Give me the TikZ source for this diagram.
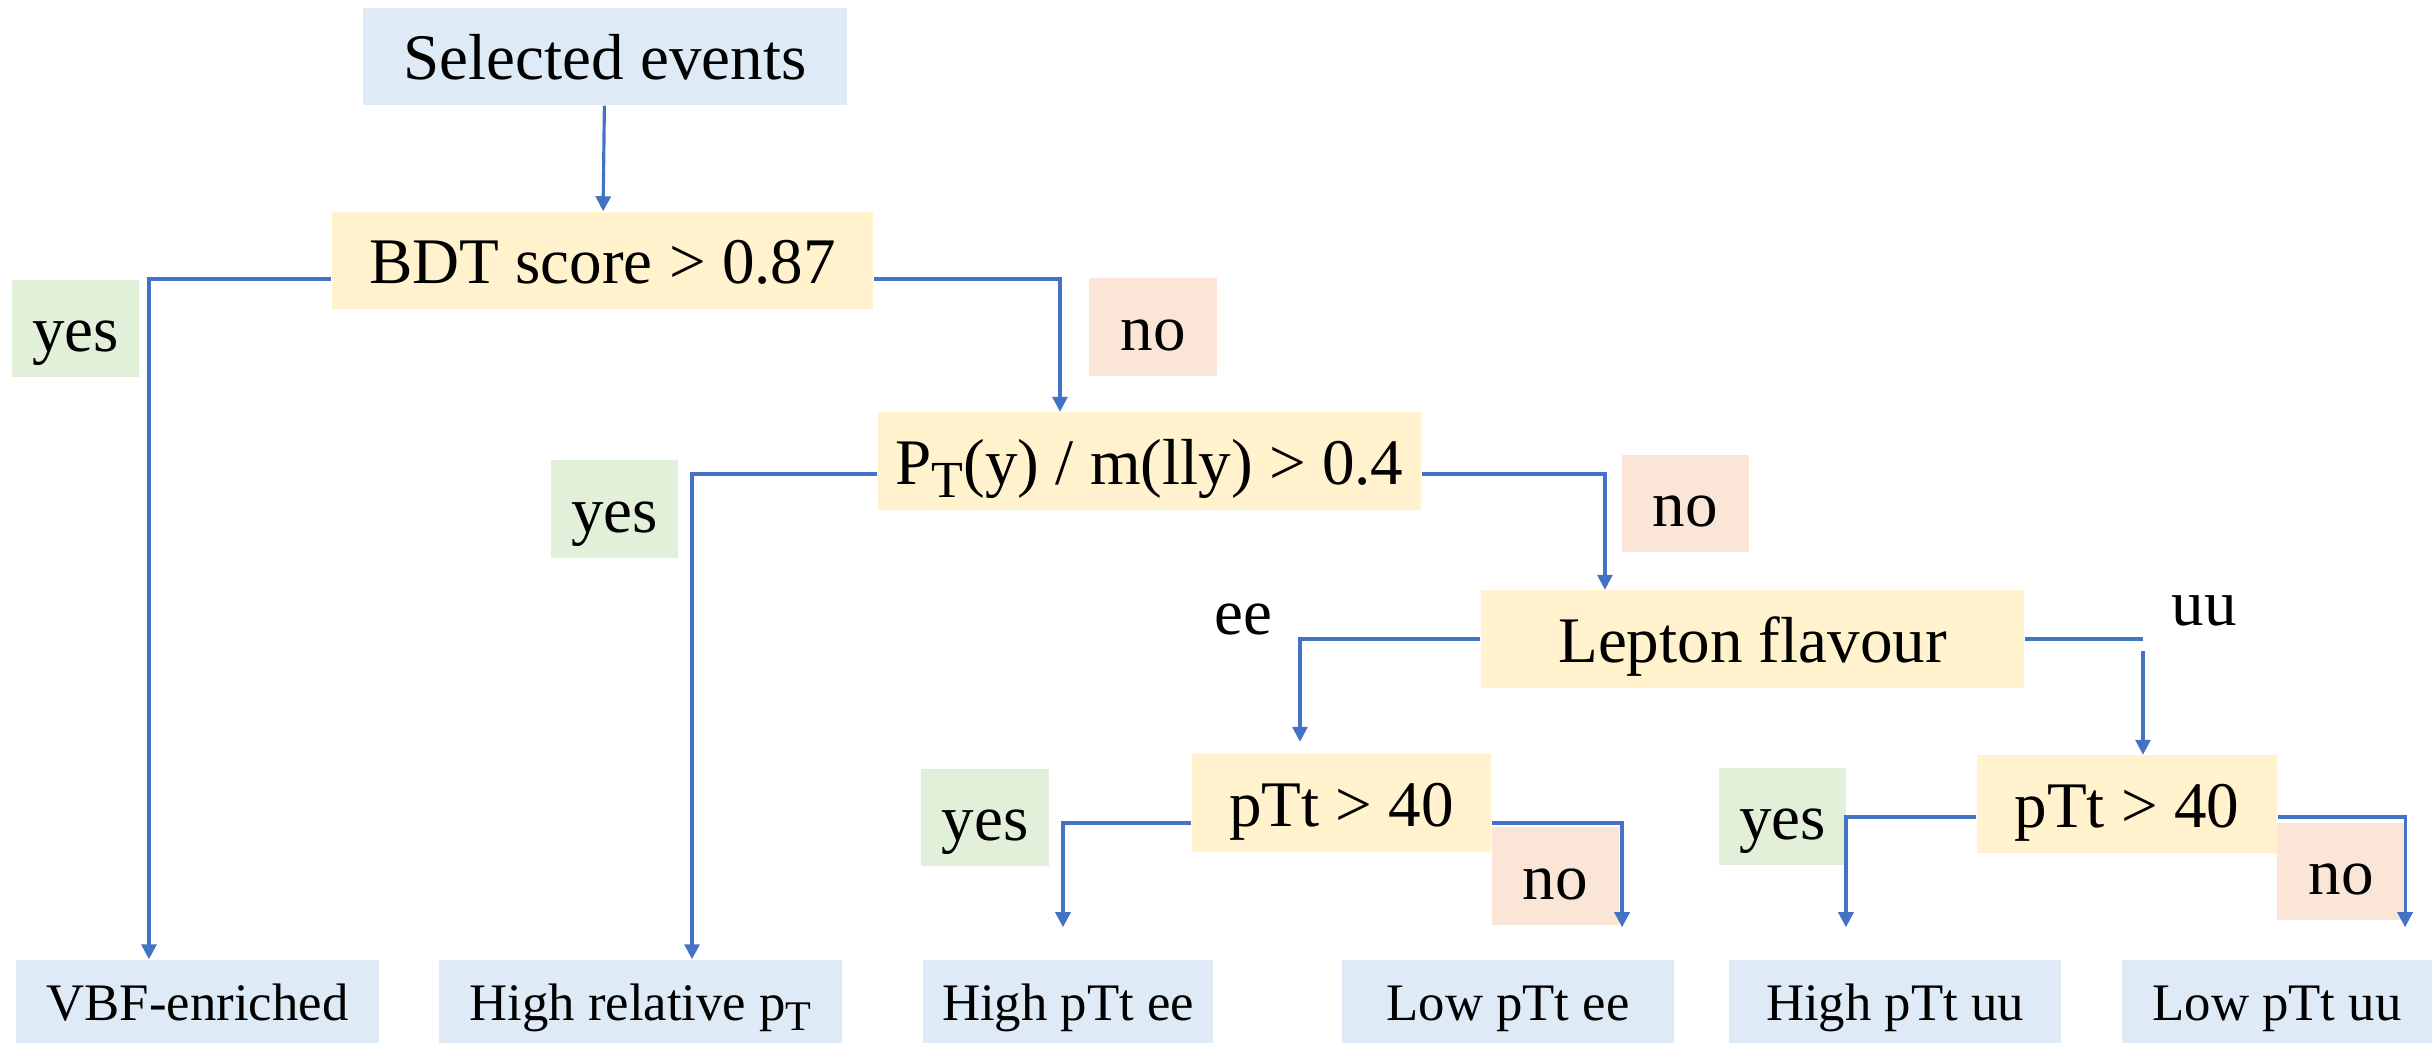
\documentclass[tikz,border=0pt]{standalone}
\usepackage{fontspec}
\setmainfont{Liberation Serif}
\usetikzlibrary{arrows.meta}
\definecolor{evblue}{HTML}{DEEBF7}
\definecolor{cutyellow}{HTML}{FFF2CC}
\definecolor{yesgreen}{HTML}{E2F0D9}
\definecolor{nopeach}{HTML}{FBE5D6}
\definecolor{lineblue}{HTML}{4472C4}
\newcommand{\lowT}{\raisebox{-0.2em}{\scalebox{0.8}{T}}}
\begin{document}
\begin{tikzpicture}[x=0.01cm,y=-0.01cm]
		\tikzstyle{BOX}=[inner sep=0pt,minimum height=0.97cm,text height=0.715cm,text depth=0.255cm,font=\fontsize{18.5}{22}\selectfont]
		\tikzstyle{EV}=[BOX,fill=evblue]
		\tikzstyle{CUT}=[BOX,fill=cutyellow]
		\tikzstyle{YES}=[BOX,fill=yesgreen,minimum width=1.27cm]
		\tikzstyle{NO}=[BOX,fill=nopeach,minimum width=1.27cm]
		\tikzstyle{CAT}=[BOX,fill=evblue,minimum height=0.83cm,text height=0.6cm,text depth=0.23cm,font=\fontsize{15}{18}\selectfont]
		\tikzstyle{LINE}=[draw=lineblue,line width=0.9pt]
		\tikzstyle{ARR}=[LINE,-{Triangle[length=0.15cm,width=0.15cm]}]
		\useasboundingbox (0,0) rectangle (2432,1043);
		\begin{scope}
		\node[EV,minimum width=4.84cm]  (sel)   at (605,56.5)    {Selected events};
		\node[CUT,minimum width=5.41cm] (cut-1) at (602.5,260.5) {BDT score > 0.87};
		\node[CUT,minimum width=5.43cm] (cut-2) at (1149.5,461)  {P\lowT(y) / m(lly) > 0.4};
		\node[CUT,minimum width=5.43cm] (cut-3) at (1752.5,639)  {Lepton flavour};
		\node[CUT,minimum width=2.99cm] (cut-4) at (1341.5,803)  {pTt > 40};
		\node[CUT,minimum width=3.00cm] (cut-5) at (2127,804)    {pTt > 40};
		\node[CAT,minimum width=3.63cm] (cat-1) at (197.5,1001.5) {VBF-enriched};
		\node[CAT,minimum width=4.03cm] (cat-2) at (640.5,1001.5) {High relative p\lowT};
		\node[CAT,minimum width=2.90cm] (cat-3) at (1068,1001.5)  {High pTt ee};
		\node[CAT,minimum width=3.32cm] (cat-4) at (1508,1001.5)  {Low pTt ee};
		\node[CAT,minimum width=3.32cm] (cat-5) at (1895,1001.5)  {High pTt uu};
		\node[CAT,minimum width=3.10cm] (cat-6) at (2277,1001.5)  {Low pTt uu};
		\node[YES] (yes-1) at (75.5,328.5)  {yes};
		\node[NO]  (no-1)  at (1153,327)    {no};
		\node[YES] (yes-2) at (614.5,509)   {yes};
		\node[NO]  (no-2)  at (1685.5,503.5) {no};
		\node[YES] (yes-3) at (985,817.5)   {yes};
		\node[NO]  (no-3)  at (1555.5,876)  {no};
		\node[YES] (yes-4) at (1782.5,816.5) {yes};
		\node[NO]  (no-4)  at (2341,871.5)  {no};
		\node[BOX] (ee) at (1243,611) {ee};
		\node[BOX] (uu) at (2204,602) {uu};
		\coordinate (uu-in) at (2143,651);
		\end{scope}
		
		\draw[ARR] (sel) -- (cut-1);
		\draw[ARR] ([yshift=-0.185cm]cut-1.west) -| ([xshift=-0.485cm]cat-1.north);
		\draw[ARR] ([yshift=-0.185cm]cut-1.east) -| ([xshift=-0.895cm]cut-2.north);
		\draw[ARR] ([yshift=-0.13cm]cut-2.west) -| ([xshift=0.515cm]cat-2.north);
		\draw[ARR] ([yshift=-0.13cm]cut-2.east) -| ([xshift=-1.475cm]cut-3.north);
		\draw[ARR] (cut-3.west) -| ([xshift=-0.415cm,yshift=0.12cm]cut-4.north);
		\draw[LINE] (cut-3.east) -- (cut-3.east -| uu-in);
		\draw[ARR] (uu-in) -- (uu-in |- cut-5.north);
		\draw[ARR] ([yshift=-0.2cm]cut-4.west) -| ([xshift=-0.05cm,yshift=0.32cm]cat-3.north);
		\draw[ARR] ([yshift=-0.2cm]cut-4.east) -| ([xshift=1.14cm,yshift=0.32cm]cat-4.north);
		\draw[ARR] ([yshift=-0.13cm]cut-5.west) -| ([xshift=-0.49cm,yshift=0.32cm]cat-5.north);
		\draw[ARR] ([yshift=-0.13cm]cut-5.east) -| ([xshift=1.28cm,yshift=0.32cm]cat-6.north);
		
\end{tikzpicture}
\end{document}
